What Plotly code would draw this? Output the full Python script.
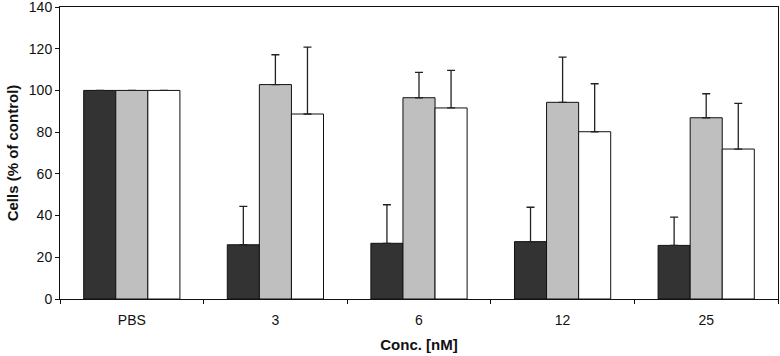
import plotly.graph_objects as go

categories = ["PBS", "3", "6", "12", "25"]
series_dark = [100, 26.0, 26.7, 27.5, 25.7]
series_gray = [100, 102.8, 96.5, 94.3, 86.9]
series_white = [100, 88.7, 91.6, 80.2, 71.9]
err_dark = [0, 18.4, 18.5, 16.5, 13.6]
err_gray = [0, 14.3, 12.2, 21.7, 11.5]
err_white = [0, 32.1, 18.0, 23.0, 21.9]
y_ticks = [0, 20, 40, 60, 80, 100, 120, 140]

font_family = "Liberation Sans, Arial, sans-serif"

fig = go.Figure()
for vals, errs, color in [
    (series_dark, err_dark, "#333333"),
    (series_gray, err_gray, "#bfbfbf"),
    (series_white, err_white, "#ffffff"),
]:
    fig.add_trace(go.Bar(
        x=categories, y=vals,
        marker=dict(color=color, line=dict(color="#111111", width=1)),
        error_y=dict(type="data", array=errs, symmetric=False,
                     arrayminus=[0] * len(errs),
                     color="#222222", thickness=1.3, width=4),
        showlegend=False,
    ))

fig.update_layout(
    width=780, height=356,
    margin=dict(l=60, r=2, t=7, b=57),
    paper_bgcolor="white", plot_bgcolor="white",
    barmode="group", bargap=0.33, bargroupgap=0,
    font=dict(family=font_family, color="#111111", size=12),
    xaxis=dict(
        type="category", showline=True, linecolor="#111111", linewidth=1,
        mirror=True, ticks="outside", ticklen=4, tickcolor="#111111",
        tickson="boundaries", tickfont=dict(size=14), automargin=False,
        ticklabelstandoff=8,
        title=dict(text="<b>Conc. [nM]</b>", font=dict(size=15), standoff=12),
        showgrid=False,
    ),
    yaxis=dict(
        range=[0, 140], tickvals=y_ticks, showline=True, linecolor="#111111",
        linewidth=1, mirror=True, ticks="outside", ticklen=4, tickcolor="#111111",
        tickfont=dict(size=14), showgrid=False, zeroline=False, automargin=False,
        ticklabeloverflow="allow",
        title=dict(text="<b>Cells (% of control)</b>", font=dict(size=15), standoff=6),
    ),
)

fig.write_html(
    "out.html",
    config={"displayModeBar": False},
    post_script="document.body.style.margin='0';document.body.style.overflow='hidden';",
)
